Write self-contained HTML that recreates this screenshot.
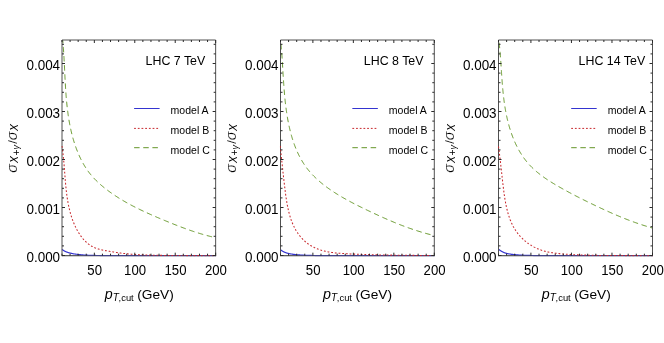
<!DOCTYPE html>
<html><head><meta charset="utf-8"><title>plot</title>
<style>
html,body{margin:0;padding:0;background:#fff;}
body{width:664px;height:343px;overflow:hidden;}
svg{display:block;}
svg{will-change:transform;}
text{font-family:"Liberation Sans",sans-serif;fill:#000;}
.i{font-style:italic;}
.tk{font-size:14.4px;}
.tt{font-size:12.4px;}
.lg{font-size:11.2px;}
</style></head><body>
<svg width="664" height="343" viewBox="0 0 664 343">
<rect width="664" height="343" fill="#fff"/>

<g>
<clipPath id="c0"><rect x="61.40" y="39.40" width="154.85" height="217.08"/></clipPath>
<path d="M62.0,255.68H215.65" stroke="#505050" stroke-width="1.0" fill="none"/>
<g clip-path="url(#c0)" fill="none" stroke-width="1.0">
<path d="M62.00,249.40 L62.05,249.44 L62.09,249.47 L62.14,249.51 L62.19,249.54 L62.23,249.58 L62.28,249.61 L62.33,249.65 L62.38,249.68 L62.42,249.72 L62.47,249.75 L62.52,249.79 L62.57,249.82 L62.61,249.86 L62.66,249.89 L62.71,249.93 L62.76,249.96 L62.80,249.99 L62.85,250.03 L62.90,250.06 L62.95,250.09 L63.00,250.13 L63.05,250.16 L63.09,250.19 L63.14,250.23 L63.19,250.26 L63.24,250.29 L63.29,250.32 L63.34,250.36 L63.39,250.39 L63.43,250.42 L63.48,250.45 L63.53,250.48 L63.58,250.51 L63.63,250.55 L63.68,250.58 L63.73,250.61 L63.78,250.64 L63.83,250.67 L63.88,250.70 L63.93,250.73 L63.98,250.76 L64.03,250.79 L64.08,250.82 L64.13,250.84 L64.18,250.87 L64.23,250.90 L64.28,250.93 L64.33,250.96 L64.38,250.98 L64.43,251.01 L64.48,251.04 L64.53,251.07 L64.58,251.09 L64.63,251.12 L64.68,251.15 L64.73,251.17 L64.79,251.20 L64.84,251.22 L64.89,251.25 L64.94,251.27 L64.99,251.30 L65.04,251.32 L65.09,251.34 L65.15,251.37 L65.20,251.39 L65.25,251.42 L65.30,251.44 L65.35,251.46 L65.41,251.49 L65.46,251.51 L65.51,251.53 L65.56,251.56 L65.62,251.58 L65.67,251.60 L65.72,251.63 L65.78,251.65 L65.83,251.67 L65.88,251.70 L65.94,251.72 L65.99,251.74 L66.04,251.76 L66.10,251.79 L66.15,251.81 L66.20,251.83 L66.26,251.85 L66.31,251.87 L66.37,251.90 L66.42,251.92 L66.47,251.94 L66.53,251.96 L66.58,251.98 L66.64,252.00 L66.69,252.03 L66.75,252.05 L66.80,252.07 L66.86,252.09 L66.91,252.11 L66.97,252.13 L67.02,252.15 L67.08,252.17 L67.13,252.19 L67.19,252.21 L67.24,252.23 L67.30,252.25 L67.35,252.27 L67.41,252.29 L67.46,252.31 L67.52,252.33 L67.57,252.35 L67.63,252.37 L67.68,252.39 L67.74,252.41 L67.79,252.43 L67.85,252.44 L67.91,252.46 L67.96,252.48 L68.02,252.50 L68.07,252.52 L68.13,252.54 L68.18,252.55 L68.24,252.57 L68.30,252.59 L68.35,252.61 L68.41,252.62 L68.46,252.64 L68.52,252.66 L68.57,252.67 L68.63,252.69 L68.69,252.71 L68.74,252.72 L68.80,252.74 L68.85,252.76 L68.91,252.77 L68.97,252.79 L69.02,252.80 L69.08,252.82 L69.13,252.83 L69.19,252.85 L69.25,252.86 L69.30,252.88 L69.36,252.89 L69.41,252.91 L69.47,252.92 L69.53,252.93 L69.58,252.95 L69.64,252.96 L69.69,252.98 L69.75,252.99 L69.81,253.00 L69.86,253.01 L69.92,253.03 L69.97,253.04 L70.03,253.05 L70.09,253.07 L70.14,253.08 L70.20,253.09 L70.25,253.10 L70.31,253.12 L70.37,253.13 L70.42,253.14 L70.48,253.16 L70.53,253.17 L70.59,253.18 L70.65,253.19 L70.70,253.21 L70.76,253.22 L70.81,253.23 L70.87,253.24 L70.93,253.26 L70.98,253.27 L71.04,253.28 L71.10,253.30 L71.15,253.31 L71.21,253.32 L71.26,253.33 L71.32,253.34 L71.38,253.36 L71.43,253.37 L71.49,253.38 L71.55,253.39 L71.60,253.41 L71.66,253.42 L71.72,253.43 L71.77,253.44 L71.83,253.45 L71.88,253.47 L71.94,253.48 L72.00,253.49 L72.90,253.68 L73.81,253.84 L74.72,254.00 L75.63,254.14 L76.53,254.27 L77.44,254.39 L78.35,254.50 L79.25,254.60 L80.16,254.69 L81.07,254.77 L81.97,254.85 L82.88,254.92 L83.79,254.98 L84.69,255.04 L85.60,255.09 L86.51,255.14 L87.42,255.19 L88.32,255.23 L89.23,255.27 L90.14,255.30 L91.04,255.33 L91.95,255.36 L92.86,255.39 L93.76,255.41 L94.67,255.44 L95.58,255.46 L96.48,255.48 L97.39,255.49 L98.30,255.51 L99.21,255.52 L100.11,255.54 L101.02,255.55 L101.93,255.56 L102.83,255.57 L103.74,255.58 L104.65,255.59 L105.55,255.60 L106.46,255.60 L107.37,255.61 L108.27,255.61 L109.18,255.62 L110.09,255.63 L111.00,255.63 L111.90,255.63 L112.81,255.64 L113.72,255.64 L114.62,255.64 L115.53,255.65 L116.44,255.65 L117.34,255.65 L118.25,255.66 L119.16,255.66 L120.07,255.66 L120.97,255.66 L121.88,255.66 L122.79,255.66 L123.69,255.67 L124.60,255.67 L125.51,255.67 L126.41,255.67 L127.32,255.67 L128.23,255.67 L129.13,255.67 L130.04,255.67 L130.95,255.67 L131.86,255.67 L132.76,255.67 L133.67,255.67 L134.58,255.67 L135.48,255.68 L136.39,255.68 L137.30,255.68 L138.20,255.68 L139.11,255.68 L140.02,255.68 L140.92,255.68 L141.83,255.68 L142.74,255.68 L143.65,255.68 L144.55,255.68 L145.46,255.68 L146.37,255.68 L147.27,255.68 L148.18,255.68 L149.09,255.68 L149.99,255.68 L150.90,255.68 L151.81,255.68 L152.71,255.68 L153.62,255.68 L154.53,255.68 L155.44,255.68 L156.34,255.68 L157.25,255.68 L158.16,255.68 L159.06,255.68 L159.97,255.68 L160.88,255.68 L161.78,255.68 L162.69,255.68 L163.60,255.68 L164.50,255.68 L165.41,255.68 L166.32,255.68 L167.23,255.68 L168.13,255.68 L169.04,255.68 L169.95,255.68 L170.85,255.68 L171.76,255.68 L172.67,255.68 L173.57,255.68 L174.48,255.68 L175.39,255.68 L176.29,255.68 L177.20,255.68 L178.11,255.68 L179.02,255.68 L179.92,255.68 L180.83,255.68 L181.74,255.68 L182.64,255.68 L183.55,255.68 L184.46,255.68 L185.36,255.68 L186.27,255.68 L187.18,255.68 L188.09,255.68 L188.99,255.68 L189.90,255.68 L190.81,255.68 L191.71,255.68 L192.62,255.68 L193.53,255.68 L194.43,255.68 L195.34,255.68 L196.25,255.68 L197.15,255.68 L198.06,255.68 L198.97,255.68 L199.88,255.68 L200.78,255.68 L201.69,255.68 L202.60,255.68 L203.50,255.68 L204.41,255.68 L205.32,255.68 L206.22,255.68 L207.13,255.68 L208.04,255.68 L208.94,255.68 L209.85,255.68 L210.76,255.68 L211.67,255.68 L212.57,255.68 L213.48,255.68 L214.39,255.68 L215.29,255.68 L216.20,255.68" stroke="#3434d0" stroke-width="1.2"/>
<path d="M62.70,40.01 L62.78,40.91 L62.87,41.82 L62.95,42.73 L63.03,43.65 L63.10,44.56 L63.18,45.48 L63.25,46.40 L63.32,47.32 L63.39,48.24 L63.46,49.16 L63.52,50.08 L63.58,51.01 L63.65,51.94 L63.71,52.86 L63.76,53.79 L63.82,54.72 L63.88,55.66 L63.93,56.59 L63.99,57.52 L64.04,58.46 L64.09,59.40 L64.14,60.33 L64.19,61.27 L64.24,62.21 L64.29,63.15 L64.33,64.10 L64.38,65.04 L64.43,65.98 L64.47,66.93 L64.52,67.87 L64.56,68.82 L64.61,69.77 L64.66,70.71 L64.70,71.66 L64.75,72.61 L64.79,73.56 L64.84,74.51 L64.89,75.46 L64.93,76.41 L64.98,77.36 L65.03,78.31 L65.08,79.26 L65.13,80.22 L65.18,81.17 L65.23,82.12 L65.28,83.08 L65.34,84.03 L65.39,84.98 L65.45,85.94 L65.50,86.89 L65.56,87.85 L65.62,88.80 L65.68,89.75 L65.75,90.71 L65.81,91.66 L65.88,92.62 L65.95,93.57 L66.02,94.52 L66.09,95.48 L66.17,96.43 L66.24,97.38 L66.32,98.33 L66.41,99.29 L66.49,100.24 L66.58,101.19 L66.67,102.14 L66.76,103.09 L66.85,104.04 L66.95,104.99 L67.05,105.94 L67.16,106.88 L67.26,107.83 L67.37,108.78 L67.49,109.72 L67.60,110.67 L67.72,111.61 L67.85,112.56 L67.97,113.50 L68.10,114.44 L68.24,115.38 L68.38,116.32 L68.52,117.26 L68.66,118.20 L68.81,119.13 L68.97,120.07 L69.13,121.00 L69.29,121.94 L69.46,122.87 L69.63,123.80 L69.80,124.73 L69.98,125.66 L70.17,126.58 L70.36,127.51 L70.55,128.43 L70.75,129.35 L70.96,130.27 L71.17,131.19 L71.38,132.11 L71.61,133.03 L71.83,133.94 L72.06,134.85 L72.30,135.76 L72.54,136.67 L72.79,137.58 L73.04,138.49 L73.30,139.39 L73.57,140.29 L73.84,141.19 L74.12,142.09 L74.40,142.98 L74.69,143.88 L74.98,144.77 L75.29,145.66 L75.60,146.55 L75.91,147.43 L76.23,148.32 L76.56,149.20 L76.90,150.07 L77.24,150.95 L77.59,151.82 L77.94,152.70 L78.31,153.56 L78.68,154.43 L79.06,155.29 L79.44,156.15 L79.84,157.00 L80.24,157.85 L80.65,158.70 L81.06,159.54 L81.49,160.38 L81.92,161.21 L82.36,162.04 L82.81,162.86 L83.27,163.68 L83.73,164.49 L84.21,165.30 L84.69,166.10 L85.18,166.89 L85.69,167.68 L86.20,168.46 L86.72,169.24 L87.25,170.01 L87.78,170.77 L88.33,171.52 L88.89,172.27 L89.46,173.01 L90.03,173.74 L90.62,174.46 L91.22,175.18 L91.82,175.89 L92.43,176.59 L93.06,177.29 L93.69,177.97 L94.33,178.65 L94.97,179.33 L95.63,180.00 L96.29,180.66 L96.96,181.31 L97.63,181.96 L98.32,182.60 L99.00,183.23 L99.70,183.86 L100.40,184.49 L101.11,185.10 L101.82,185.71 L102.54,186.32 L103.26,186.92 L103.99,187.51 L104.73,188.10 L105.47,188.68 L106.21,189.26 L106.96,189.84 L107.71,190.40 L108.46,190.97 L109.22,191.53 L109.98,192.08 L110.75,192.63 L111.52,193.17 L112.29,193.71 L113.06,194.25 L113.84,194.78 L114.63,195.30 L115.41,195.82 L116.20,196.34 L116.99,196.85 L117.79,197.36 L118.59,197.87 L119.39,198.37 L120.20,198.86 L121.00,199.35 L121.81,199.84 L122.63,200.33 L123.44,200.81 L124.26,201.28 L125.08,201.76 L125.90,202.23 L126.73,202.69 L127.56,203.15 L128.39,203.61 L129.22,204.07 L130.06,204.52 L130.89,204.97 L131.73,205.41 L132.57,205.85 L133.42,206.29 L134.26,206.73 L135.11,207.16 L135.96,207.59 L136.81,208.01 L137.66,208.44 L138.51,208.86 L139.37,209.27 L140.22,209.69 L141.08,210.10 L141.94,210.51 L142.80,210.92 L143.66,211.32 L144.52,211.72 L145.39,212.12 L146.25,212.52 L147.12,212.92 L147.98,213.31 L148.85,213.70 L149.72,214.09 L150.59,214.47 L151.46,214.86 L152.33,215.24 L153.20,215.62 L154.07,216.00 L154.94,216.38 L155.81,216.75 L156.68,217.13 L157.56,217.50 L158.43,217.87 L159.30,218.24 L160.17,218.61 L161.05,218.97 L161.92,219.34 L162.79,219.70 L163.66,220.06 L164.54,220.43 L165.41,220.79 L166.28,221.14 L167.15,221.50 L168.02,221.86 L168.89,222.22 L169.76,222.57 L170.63,222.92 L171.50,223.27 L172.37,223.62 L173.24,223.97 L174.11,224.32 L174.98,224.66 L175.85,225.01 L176.72,225.35 L177.59,225.69 L178.47,226.03 L179.34,226.36 L180.21,226.70 L181.08,227.03 L181.96,227.36 L182.83,227.69 L183.71,228.02 L184.59,228.34 L185.46,228.66 L186.34,228.98 L187.22,229.30 L188.10,229.61 L188.98,229.92 L189.86,230.23 L190.75,230.54 L191.63,230.84 L192.52,231.14 L193.41,231.44 L194.29,231.73 L195.19,232.02 L196.08,232.31 L196.97,232.60 L197.87,232.88 L198.76,233.16 L199.66,233.44 L200.56,233.71 L201.46,233.98 L202.37,234.25 L203.28,234.51 L204.18,234.77 L205.09,235.02 L206.01,235.28 L206.92,235.52 L207.84,235.77 L208.76,236.01 L209.68,236.25 L210.60,236.48 L211.53,236.71 L212.46,236.93 L213.39,237.16 L214.33,237.37 L215.26,237.58 L215.65,237.67" stroke="#649628" stroke-dasharray="5.5 3.65" stroke-dashoffset="2.27"/>
</g>
<path d="M62.0,256.18V40.0H215.65V256.18" fill="none" stroke="#505050" stroke-width="1.0"/>
<path d="M62.0,255.68H215.65" stroke="#505050" stroke-width="1.0" stroke-opacity="0.65" fill="none"/>
<g clip-path="url(#c0)" fill="none" stroke-width="1.0">
<path d="M61.89,146.01 L61.97,146.48 L62.04,146.96 L62.12,147.43 L62.19,147.91 L62.26,148.38 L62.33,148.86 L62.40,149.34 L62.47,149.81 L62.54,150.29 L62.60,150.77 L62.67,151.25 L62.73,151.73 L62.79,152.22 L62.85,152.70 L62.91,153.18 L62.97,153.66 L63.03,154.15 L63.08,154.63 L63.14,155.12 L63.19,155.60 L63.25,156.09 L63.30,156.57 L63.35,157.06 L63.40,157.55 L63.45,158.04 L63.50,158.52 L63.55,159.01 L63.60,159.50 L63.64,159.99 L63.69,160.48 L63.74,160.97 L63.78,161.46 L63.83,161.96 L63.87,162.45 L63.91,162.94 L63.96,163.43 L64.00,163.92 L64.04,164.42 L64.08,164.91 L64.12,165.41 L64.16,165.90 L64.20,166.39 L64.24,166.89 L64.28,167.38 L64.32,167.88 L64.36,168.37 L64.40,168.87 L64.44,169.37 L64.48,169.86 L64.52,170.36 L64.55,170.85 L64.59,171.35 L64.63,171.85 L64.67,172.34 L64.71,172.84 L64.74,173.34 L64.78,173.84 L64.82,174.33 L64.86,174.83 L64.90,175.33 L64.93,175.83 L64.97,176.32 L65.01,176.82 L65.05,177.32 L65.09,177.82 L65.13,178.32 L65.17,178.81 L65.21,179.31 L65.25,179.81 L65.29,180.31 L65.33,180.81 L65.38,181.30 L65.42,181.80 L65.46,182.30 L65.50,182.80 L65.55,183.30 L65.59,183.79 L65.64,184.29 L65.68,184.79 L65.73,185.29 L65.78,185.78 L65.83,186.28 L65.88,186.78 L65.92,187.27 L65.98,187.77 L66.03,188.26 L66.08,188.76 L66.13,189.26 L66.19,189.75 L66.24,190.25 L66.30,190.74 L66.35,191.24 L66.41,191.73 L66.47,192.23 L66.53,192.72 L66.59,193.21 L66.65,193.71 L66.72,194.20 L66.78,194.69 L66.85,195.18 L66.91,195.67 L66.98,196.17 L67.05,196.66 L67.12,197.15 L67.19,197.64 L67.27,198.13 L67.34,198.62 L67.42,199.11 L67.50,199.59 L67.58,200.08 L67.66,200.57 L67.74,201.06 L67.82,201.54 L67.91,202.03 L68.00,202.51 L68.09,203.00 L68.18,203.48 L68.27,203.97 L68.36,204.45 L68.46,204.93 L68.56,205.42 L68.65,205.90 L68.76,206.38 L68.86,206.86 L68.96,207.34 L69.07,207.82 L69.18,208.30 L69.29,208.77 L69.40,209.25 L69.52,209.73 L69.63,210.20 L69.75,210.68 L69.87,211.15 L70.00,211.62 L70.12,212.10 L70.25,212.57 L70.38,213.04 L70.51,213.51 L70.65,213.98 L70.78,214.45 L70.92,214.92 L71.06,215.38 L71.21,215.85 L71.35,216.32 L71.50,216.78 L71.65,217.24 L71.81,217.71 L71.96,218.17 L72.12,218.63 L72.28,219.09 L72.45,219.55 L72.61,220.01 L72.78,220.46 L72.95,220.92 L73.13,221.38 L73.31,221.83 L73.49,222.28 L73.67,222.74 L73.85,223.19 L74.04,223.64 L74.23,224.09 L74.43,224.54 L74.63,224.98 L74.83,225.43 L75.03,225.87 L75.23,226.32 L75.44,226.76 L75.66,227.20 L75.87,227.64 L76.09,228.08 L76.31,228.52 L76.54,228.96 L76.76,229.39 L77.00,229.83 L77.23,230.26 L77.47,230.69 L77.71,231.12 L77.95,231.54 L78.20,231.97 L78.45,232.39 L78.71,232.81 L78.97,233.23 L79.23,233.64 L79.49,234.05 L79.76,234.46 L80.04,234.87 L80.31,235.27 L80.59,235.67 L80.88,236.07 L81.17,236.46 L81.46,236.85 L81.75,237.24 L82.05,237.62 L82.36,238.00 L82.66,238.38 L82.98,238.75 L83.29,239.12 L83.61,239.48 L83.94,239.84 L84.26,240.19 L84.60,240.54 L84.93,240.89 L85.27,241.23 L85.62,241.57 L85.97,241.90 L86.32,242.22 L86.68,242.54 L87.04,242.86 L87.41,243.17 L87.78,243.47 L88.15,243.77 L88.54,244.07 L88.92,244.35 L89.31,244.64 L89.70,244.91 L90.10,245.18 L90.51,245.44 L90.92,245.70 L91.33,245.95 L91.75,246.19 L92.17,246.43 L92.60,246.66 L93.03,246.88 L93.47,247.10 L93.91,247.31 L94.36,247.51 L94.81,247.71 L95.27,247.89 L95.73,248.08 L96.20,248.25 L96.67,248.42 L97.14,248.58 L97.62,248.74 L98.10,248.89 L98.59,249.03 L99.07,249.17 L99.56,249.31 L100.06,249.44 L100.55,249.57 L101.05,249.69 L101.55,249.81 L102.05,249.92 L102.55,250.03 L103.06,250.14 L103.56,250.25 L104.07,250.35 L104.57,250.45 L105.08,250.54 L105.58,250.64 L106.09,250.73 L106.60,250.82 L107.10,250.91 L107.61,251.00 L108.11,251.09 L108.61,251.17 L109.11,251.26 L109.61,251.34 L110.11,251.43 L110.61,251.51 L111.10,251.60 L111.60,251.68 L112.09,251.76 L112.58,251.84 L113.07,251.93 L113.56,252.01 L114.05,252.09 L114.54,252.17 L115.02,252.24 L115.51,252.32 L115.99,252.40 L116.48,252.47 L116.96,252.55 L117.44,252.62 L117.93,252.69 L118.41,252.76 L118.89,252.83 L119.37,252.90 L119.85,252.97 L120.33,253.04 L120.81,253.10 L121.29,253.16 L121.77,253.23 L122.25,253.29 L122.73,253.34 L123.21,253.40 L123.70,253.46 L124.18,253.51 L124.76,253.57 L125.33,253.64 L125.91,253.70 L126.49,253.76 L127.07,253.82 L127.65,253.87 L128.23,253.93 L128.81,253.98 L129.39,254.03 L129.96,254.08 L130.54,254.13 L131.12,254.18 L131.70,254.22 L132.28,254.27 L132.86,254.31 L133.44,254.35 L134.02,254.39 L134.59,254.43 L135.17,254.47 L135.75,254.50 L136.33,254.54 L136.91,254.57 L137.49,254.61 L138.07,254.64 L138.65,254.67 L139.22,254.70 L139.80,254.73 L140.38,254.76 L140.96,254.79 L141.54,254.81 L142.12,254.84 L142.70,254.86 L143.28,254.89 L143.85,254.91 L144.43,254.94 L145.01,254.96 L145.59,254.98 L146.17,255.00 L146.75,255.02 L147.33,255.04 L147.91,255.06 L148.48,255.08 L149.06,255.10 L149.64,255.12 L150.22,255.13 L150.80,255.15 L151.38,255.17 L151.96,255.18 L152.54,255.20 L153.11,255.21 L153.69,255.22 L154.27,255.24 L154.85,255.25 L155.43,255.26 L156.01,255.28 L156.59,255.29 L157.17,255.30 L157.75,255.31 L158.32,255.32 L158.90,255.33 L159.48,255.34 L160.06,255.35 L160.64,255.36 L161.22,255.37 L161.80,255.38 L162.38,255.39 L162.95,255.40 L163.53,255.41 L164.11,255.42 L164.69,255.43 L165.27,255.43 L165.85,255.44 L166.43,255.45 L167.01,255.45 L167.58,255.46 L168.16,255.47 L168.74,255.47 L169.32,255.48 L169.90,255.49 L170.48,255.49 L171.06,255.50 L171.64,255.50 L172.21,255.51 L172.79,255.51 L173.37,255.52 L173.95,255.52 L174.53,255.53 L175.11,255.53 L175.69,255.54 L176.27,255.54 L176.84,255.55 L177.42,255.55 L178.00,255.55 L178.58,255.56 L179.16,255.56 L179.74,255.57 L180.32,255.57 L180.90,255.57 L181.47,255.58 L182.05,255.58 L182.63,255.58 L183.21,255.58 L183.79,255.59 L184.37,255.59 L184.95,255.59 L185.53,255.60 L186.10,255.60 L186.68,255.60 L187.26,255.60 L187.84,255.61 L188.42,255.61 L189.00,255.61 L189.58,255.61 L190.16,255.61 L190.73,255.62 L191.31,255.62 L191.89,255.62 L192.47,255.62 L193.05,255.62 L193.63,255.62 L194.21,255.63 L194.79,255.63 L195.36,255.63 L195.94,255.63 L196.52,255.63 L197.10,255.63 L197.68,255.64 L198.26,255.64 L198.84,255.64 L199.42,255.64 L199.99,255.64 L200.57,255.64 L201.15,255.64 L201.73,255.64 L202.31,255.65 L202.89,255.65 L203.47,255.65 L204.05,255.65 L204.62,255.65 L205.20,255.65 L205.78,255.65 L206.36,255.65 L206.94,255.65 L207.52,255.65 L208.10,255.65 L208.68,255.66 L209.25,255.66 L209.83,255.66 L210.41,255.66 L210.99,255.66 L211.57,255.66 L212.15,255.66 L212.73,255.66 L213.31,255.66 L213.88,255.66 L214.46,255.66 L215.04,255.66 L215.62,255.66 L216.20,255.66" stroke="#c8282d" stroke-width="1.05" stroke-dasharray="1.8 1.9"/>
</g>
<path d="M62.00,255.68v-2.0M62.00,40.0v2.0M70.09,255.68v-2.0M70.09,40.0v2.0M78.17,255.68v-2.0M78.17,40.0v2.0M86.26,255.68v-2.0M86.26,40.0v2.0M94.35,255.68v-3.0M94.35,40.0v3.0M102.43,255.68v-2.0M102.43,40.0v2.0M110.52,255.68v-2.0M110.52,40.0v2.0M118.61,255.68v-2.0M118.61,40.0v2.0M126.69,255.68v-2.0M126.69,40.0v2.0M134.78,255.68v-3.0M134.78,40.0v3.0M142.87,255.68v-2.0M142.87,40.0v2.0M150.96,255.68v-2.0M150.96,40.0v2.0M159.04,255.68v-2.0M159.04,40.0v2.0M167.13,255.68v-2.0M167.13,40.0v2.0M175.22,255.68v-3.0M175.22,40.0v3.0M183.30,255.68v-2.0M183.30,40.0v2.0M191.39,255.68v-2.0M191.39,40.0v2.0M199.48,255.68v-2.0M199.48,40.0v2.0M207.56,255.68v-2.0M207.56,40.0v2.0M215.65,255.68v-3.0M215.65,40.0v3.0M62.0,255.50h3.0M215.65,255.50h-3.0M62.0,245.90h2.0M215.65,245.90h-2.0M62.0,236.30h2.0M215.65,236.30h-2.0M62.0,226.70h2.0M215.65,226.70h-2.0M62.0,217.10h2.0M215.65,217.10h-2.0M62.0,207.50h3.0M215.65,207.50h-3.0M62.0,197.90h2.0M215.65,197.90h-2.0M62.0,188.30h2.0M215.65,188.30h-2.0M62.0,178.70h2.0M215.65,178.70h-2.0M62.0,169.10h2.0M215.65,169.10h-2.0M62.0,159.50h3.0M215.65,159.50h-3.0M62.0,149.90h2.0M215.65,149.90h-2.0M62.0,140.30h2.0M215.65,140.30h-2.0M62.0,130.70h2.0M215.65,130.70h-2.0M62.0,121.10h2.0M215.65,121.10h-2.0M62.0,111.50h3.0M215.65,111.50h-3.0M62.0,101.90h2.0M215.65,101.90h-2.0M62.0,92.30h2.0M215.65,92.30h-2.0M62.0,82.70h2.0M215.65,82.70h-2.0M62.0,73.10h2.0M215.65,73.10h-2.0M62.0,63.50h3.0M215.65,63.50h-3.0M62.0,53.90h2.0M215.65,53.90h-2.0M62.0,44.30h2.0M215.65,44.30h-2.0" stroke="#2a2a2a" stroke-width="1.0" fill="none"/>
<text class="tk" transform="translate(94.65,275.2) scale(0.915,1)" text-anchor="middle">50</text>
<text class="tk" transform="translate(135.08,275.2) scale(0.915,1)" text-anchor="middle">100</text>
<text class="tk" transform="translate(175.52,275.2) scale(0.915,1)" text-anchor="middle">150</text>
<text class="tk" transform="translate(215.95,275.2) scale(0.915,1)" text-anchor="middle">200</text>
<text class="tk" transform="translate(60.10,262.30) scale(0.935,1)" text-anchor="end">0.000</text>
<text class="tk" transform="translate(60.10,214.30) scale(0.935,1)" text-anchor="end">0.001</text>
<text class="tk" transform="translate(60.10,166.30) scale(0.935,1)" text-anchor="end">0.002</text>
<text class="tk" transform="translate(60.10,118.30) scale(0.935,1)" text-anchor="end">0.003</text>
<text class="tk" transform="translate(60.10,70.30) scale(0.935,1)" text-anchor="end">0.004</text>
<text class="tt" x="175.40" y="65.3" text-anchor="middle">LHC 7 TeV</text>
<path d="M134.10,108.5H159.60" stroke="#3434d0" stroke-width="1.0" fill="none"/>
<text class="lg" transform="translate(170.60,114.40) scale(0.94,1)">model A</text>
<path d="M134.10,128.4H159.60" stroke="#c8282d" stroke-width="1.0" stroke-dasharray="1.8 1.9" fill="none"/>
<text class="lg" transform="translate(170.60,134.30) scale(0.94,1)">model B</text>
<path d="M134.10,147.7H159.60" stroke="#649628" stroke-width="1.0" stroke-dasharray="5.5 3.65" fill="none"/>
<text class="lg" transform="translate(170.60,153.60) scale(0.94,1)">model C</text>
<text y="298.9" font-size="13.7"><tspan class="i" font-size="14.3" x="104.80">p</tspan><tspan class="i" font-size="10" x="112.80" dy="2.2">T</tspan><tspan font-size="9.4" x="118.60">,cut</tspan><tspan x="137.20" dy="-2.2">(GeV)</tspan></text>
<g transform="translate(17.40,172.4) rotate(-90)"><text y="0" font-size="14.6"><tspan class="i" x="-0.3" stroke="#fff" stroke-width="0.22">σ</tspan><tspan class="i" font-size="10.3" x="9.4" dy="1.0">X</tspan><tspan font-size="10.2" x="16.9" dy="1.4">+</tspan><tspan class="i" font-size="9.0" x="22.9" dy="-0.6">γ</tspan><tspan font-size="13.6" x="28.7" dy="-2.0" stroke="#fff" stroke-width="0.22">/</tspan><tspan class="i" x="32.2" dy="0.2" stroke="#fff" stroke-width="0.22">σ</tspan><tspan class="i" font-size="10.3" x="41.5" dy="1.0">X</tspan></text></g>
</g>
<g>
<clipPath id="c1"><rect x="279.90" y="39.40" width="155.00" height="217.08"/></clipPath>
<path d="M280.5,255.68H434.30" stroke="#505050" stroke-width="1.0" fill="none"/>
<g clip-path="url(#c1)" fill="none" stroke-width="1.0">
<path d="M280.20,249.50 L280.24,249.53 L280.28,249.57 L280.33,249.60 L280.37,249.64 L280.41,249.67 L280.45,249.71 L280.50,249.74 L280.54,249.78 L280.58,249.81 L280.63,249.84 L280.67,249.88 L280.71,249.91 L280.76,249.94 L280.80,249.98 L280.84,250.01 L280.89,250.04 L280.93,250.08 L280.97,250.11 L281.02,250.14 L281.06,250.18 L281.10,250.21 L281.15,250.24 L281.19,250.27 L281.23,250.30 L281.28,250.34 L281.32,250.37 L281.37,250.40 L281.41,250.43 L281.45,250.46 L281.50,250.49 L281.54,250.53 L281.59,250.56 L281.63,250.59 L281.68,250.62 L281.72,250.65 L281.77,250.68 L281.81,250.71 L281.86,250.74 L281.90,250.77 L281.95,250.80 L281.99,250.83 L282.04,250.86 L282.08,250.89 L282.13,250.92 L282.17,250.95 L282.22,250.98 L282.26,251.00 L282.31,251.03 L282.35,251.06 L282.40,251.09 L282.44,251.12 L282.49,251.15 L282.54,251.17 L282.58,251.20 L282.63,251.23 L282.67,251.26 L282.72,251.28 L282.77,251.31 L282.81,251.34 L282.86,251.36 L282.91,251.39 L282.95,251.41 L283.00,251.44 L283.04,251.47 L283.09,251.49 L283.14,251.52 L283.18,251.54 L283.23,251.57 L283.28,251.59 L283.32,251.62 L283.37,251.64 L283.42,251.67 L283.47,251.69 L283.51,251.71 L283.56,251.74 L283.61,251.76 L283.65,251.78 L283.70,251.81 L283.75,251.83 L283.80,251.85 L283.84,251.87 L283.89,251.90 L283.94,251.92 L283.99,251.94 L284.04,251.96 L284.08,251.98 L284.13,252.01 L284.18,252.03 L284.23,252.05 L284.28,252.07 L284.33,252.09 L284.37,252.11 L284.42,252.14 L284.47,252.16 L284.52,252.18 L284.57,252.20 L284.62,252.22 L284.67,252.24 L284.72,252.26 L284.77,252.28 L284.82,252.30 L284.87,252.32 L284.92,252.34 L284.97,252.36 L285.02,252.38 L285.07,252.40 L285.12,252.42 L285.17,252.44 L285.22,252.46 L285.27,252.48 L285.32,252.50 L285.37,252.52 L285.42,252.54 L285.47,252.56 L285.52,252.58 L285.57,252.60 L285.62,252.62 L285.67,252.64 L285.72,252.66 L285.77,252.68 L285.82,252.70 L285.88,252.71 L285.93,252.73 L285.98,252.75 L286.03,252.77 L286.08,252.79 L286.13,252.80 L286.18,252.82 L286.23,252.84 L286.29,252.86 L286.34,252.87 L286.39,252.89 L286.44,252.91 L286.49,252.93 L286.54,252.94 L286.59,252.96 L286.65,252.98 L286.70,252.99 L286.75,253.01 L286.80,253.02 L286.85,253.04 L286.90,253.06 L286.96,253.07 L287.01,253.09 L287.06,253.10 L287.11,253.12 L287.16,253.13 L287.22,253.15 L287.27,253.16 L287.32,253.18 L287.37,253.19 L287.42,253.21 L287.47,253.22 L287.53,253.23 L287.58,253.25 L287.63,253.26 L287.68,253.27 L287.73,253.29 L287.79,253.30 L287.84,253.31 L287.89,253.33 L287.94,253.34 L287.99,253.35 L288.04,253.36 L288.10,253.38 L288.15,253.39 L288.20,253.40 L288.25,253.41 L288.30,253.42 L288.36,253.43 L288.41,253.45 L288.46,253.46 L288.51,253.47 L288.56,253.48 L289.48,253.68 L290.40,253.85 L291.32,254.02 L292.23,254.16 L293.15,254.30 L294.07,254.42 L294.99,254.53 L295.90,254.63 L296.82,254.73 L297.74,254.81 L298.66,254.89 L299.57,254.96 L300.49,255.02 L301.41,255.08 L302.33,255.13 L303.24,255.18 L304.16,255.23 L305.08,255.27 L306.00,255.30 L306.91,255.34 L307.83,255.37 L308.75,255.40 L309.67,255.42 L310.58,255.44 L311.50,255.46 L312.42,255.48 L313.34,255.50 L314.25,255.52 L315.17,255.53 L316.09,255.54 L317.01,255.56 L317.92,255.57 L318.84,255.58 L319.76,255.59 L320.68,255.59 L321.59,255.60 L322.51,255.61 L323.43,255.62 L324.35,255.62 L325.26,255.63 L326.18,255.63 L327.10,255.64 L328.02,255.64 L328.93,255.64 L329.85,255.65 L330.77,255.65 L331.69,255.65 L332.60,255.65 L333.52,255.66 L334.44,255.66 L335.36,255.66 L336.27,255.66 L337.19,255.66 L338.11,255.67 L339.03,255.67 L339.94,255.67 L340.86,255.67 L341.78,255.67 L342.70,255.67 L343.61,255.67 L344.53,255.67 L345.45,255.67 L346.37,255.67 L347.28,255.67 L348.20,255.67 L349.12,255.68 L350.04,255.68 L350.95,255.68 L351.87,255.68 L352.79,255.68 L353.71,255.68 L354.62,255.68 L355.54,255.68 L356.46,255.68 L357.38,255.68 L358.30,255.68 L359.21,255.68 L360.13,255.68 L361.05,255.68 L361.97,255.68 L362.88,255.68 L363.80,255.68 L364.72,255.68 L365.64,255.68 L366.55,255.68 L367.47,255.68 L368.39,255.68 L369.31,255.68 L370.22,255.68 L371.14,255.68 L372.06,255.68 L372.98,255.68 L373.89,255.68 L374.81,255.68 L375.73,255.68 L376.65,255.68 L377.56,255.68 L378.48,255.68 L379.40,255.68 L380.32,255.68 L381.23,255.68 L382.15,255.68 L383.07,255.68 L383.99,255.68 L384.90,255.68 L385.82,255.68 L386.74,255.68 L387.66,255.68 L388.57,255.68 L389.49,255.68 L390.41,255.68 L391.33,255.68 L392.24,255.68 L393.16,255.68 L394.08,255.68 L395.00,255.68 L395.91,255.68 L396.83,255.68 L397.75,255.68 L398.67,255.68 L399.58,255.68 L400.50,255.68 L401.42,255.68 L402.34,255.68 L403.25,255.68 L404.17,255.68 L405.09,255.68 L406.01,255.68 L406.92,255.68 L407.84,255.68 L408.76,255.68 L409.68,255.68 L410.59,255.68 L411.51,255.68 L412.43,255.68 L413.35,255.68 L414.26,255.68 L415.18,255.68 L416.10,255.68 L417.02,255.68 L417.93,255.68 L418.85,255.68 L419.77,255.68 L420.69,255.68 L421.60,255.68 L422.52,255.68 L423.44,255.68 L424.36,255.68 L425.27,255.68 L426.19,255.68 L427.11,255.68 L428.03,255.68 L428.94,255.68 L429.86,255.68 L430.78,255.68 L431.70,255.68 L432.61,255.68 L433.53,255.68 L434.45,255.68" stroke="#3434d0" stroke-width="1.2"/>
<path d="M280.59,40.00 L280.69,40.93 L280.78,41.87 L280.87,42.80 L280.96,43.73 L281.05,44.66 L281.13,45.59 L281.21,46.52 L281.29,47.45 L281.37,48.38 L281.45,49.31 L281.52,50.24 L281.59,51.17 L281.67,52.10 L281.73,53.03 L281.80,53.96 L281.87,54.89 L281.93,55.82 L282.00,56.75 L282.06,57.68 L282.12,58.61 L282.19,59.53 L282.25,60.46 L282.30,61.39 L282.36,62.32 L282.42,63.25 L282.48,64.17 L282.54,65.10 L282.59,66.03 L282.65,66.96 L282.70,67.89 L282.76,68.81 L282.82,69.74 L282.87,70.67 L282.93,71.60 L282.98,72.52 L283.04,73.45 L283.09,74.38 L283.15,75.31 L283.21,76.24 L283.27,77.16 L283.32,78.09 L283.38,79.02 L283.44,79.95 L283.50,80.87 L283.57,81.80 L283.63,82.73 L283.69,83.66 L283.76,84.59 L283.82,85.52 L283.89,86.44 L283.96,87.37 L284.03,88.30 L284.10,89.23 L284.17,90.16 L284.25,91.09 L284.33,92.02 L284.41,92.95 L284.49,93.88 L284.57,94.81 L284.66,95.73 L284.74,96.66 L284.83,97.60 L284.92,98.53 L285.02,99.46 L285.11,100.39 L285.21,101.32 L285.32,102.25 L285.42,103.18 L285.53,104.11 L285.64,105.04 L285.75,105.98 L285.87,106.91 L285.99,107.84 L286.11,108.77 L286.24,109.71 L286.37,110.64 L286.50,111.57 L286.64,112.51 L286.78,113.44 L286.92,114.38 L287.07,115.31 L287.22,116.24 L287.38,117.18 L287.54,118.11 L287.70,119.04 L287.87,119.97 L288.04,120.91 L288.22,121.84 L288.40,122.77 L288.59,123.69 L288.78,124.62 L288.97,125.55 L289.18,126.47 L289.38,127.40 L289.59,128.32 L289.81,129.24 L290.03,130.16 L290.25,131.07 L290.48,131.99 L290.72,132.90 L290.96,133.81 L291.21,134.72 L291.46,135.62 L291.72,136.53 L291.99,137.43 L292.26,138.33 L292.54,139.22 L292.82,140.11 L293.11,141.00 L293.41,141.89 L293.71,142.77 L294.02,143.65 L294.33,144.53 L294.66,145.40 L294.98,146.27 L295.32,147.13 L295.66,147.99 L296.01,148.85 L296.37,149.70 L296.73,150.55 L297.10,151.40 L297.48,152.24 L297.87,153.07 L298.26,153.91 L298.66,154.73 L299.07,155.55 L299.49,156.37 L299.91,157.18 L300.35,157.99 L300.79,158.79 L301.23,159.59 L301.69,160.38 L302.16,161.17 L302.63,161.95 L303.11,162.72 L303.60,163.49 L304.10,164.25 L304.61,165.01 L305.13,165.76 L305.65,166.50 L306.19,167.24 L306.73,167.97 L307.28,168.69 L307.84,169.41 L308.42,170.12 L309.00,170.83 L309.58,171.53 L310.18,172.22 L310.79,172.91 L311.40,173.59 L312.02,174.26 L312.65,174.93 L313.29,175.59 L313.93,176.24 L314.59,176.89 L315.25,177.54 L315.91,178.17 L316.58,178.81 L317.26,179.43 L317.95,180.05 L318.64,180.67 L319.34,181.28 L320.05,181.88 L320.76,182.48 L321.48,183.07 L322.20,183.66 L322.93,184.25 L323.66,184.82 L324.40,185.40 L325.14,185.97 L325.89,186.53 L326.64,187.09 L327.40,187.64 L328.16,188.19 L328.93,188.73 L329.70,189.27 L330.47,189.81 L331.25,190.34 L332.03,190.86 L332.81,191.39 L333.60,191.90 L334.39,192.42 L335.18,192.92 L335.98,193.43 L336.78,193.93 L337.58,194.43 L338.38,194.92 L339.19,195.41 L339.99,195.89 L340.80,196.38 L341.62,196.85 L342.43,197.33 L343.25,197.80 L344.07,198.27 L344.89,198.73 L345.71,199.19 L346.53,199.65 L347.36,200.11 L348.19,200.56 L349.02,201.01 L349.85,201.45 L350.68,201.90 L351.51,202.34 L352.35,202.78 L353.18,203.21 L354.02,203.65 L354.86,204.08 L355.70,204.51 L356.54,204.93 L357.38,205.36 L358.22,205.78 L359.06,206.20 L359.91,206.62 L360.75,207.04 L361.59,207.45 L362.44,207.87 L363.28,208.28 L364.13,208.69 L364.97,209.10 L365.82,209.51 L366.66,209.91 L367.51,210.32 L368.35,210.72 L369.20,211.13 L370.04,211.53 L370.89,211.93 L371.73,212.33 L372.58,212.73 L373.42,213.12 L374.27,213.52 L375.11,213.91 L375.96,214.31 L376.80,214.70 L377.65,215.09 L378.49,215.48 L379.34,215.86 L380.19,216.25 L381.03,216.63 L381.88,217.02 L382.73,217.40 L383.58,217.78 L384.42,218.15 L385.27,218.53 L386.12,218.90 L386.97,219.27 L387.82,219.64 L388.67,220.01 L389.52,220.38 L390.38,220.74 L391.23,221.10 L392.08,221.46 L392.94,221.82 L393.79,222.18 L394.65,222.53 L395.50,222.88 L396.36,223.23 L397.22,223.58 L398.08,223.92 L398.94,224.26 L399.80,224.60 L400.66,224.94 L401.52,225.27 L402.39,225.61 L403.25,225.93 L404.12,226.26 L404.99,226.59 L405.85,226.91 L406.72,227.23 L407.60,227.54 L408.47,227.86 L409.34,228.17 L410.22,228.48 L411.09,228.78 L411.97,229.08 L412.85,229.38 L413.73,229.68 L414.61,229.97 L415.50,230.26 L416.38,230.55 L417.27,230.83 L418.16,231.12 L419.05,231.39 L419.94,231.67 L420.83,231.94 L421.73,232.21 L422.62,232.47 L423.52,232.73 L424.42,232.99 L425.32,233.25 L426.23,233.50 L427.13,233.75 L428.04,233.99 L428.95,234.23 L429.86,234.47 L430.78,234.70 L431.69,234.93 L432.61,235.16 L433.53,235.38 L434.30,235.56" stroke="#649628" stroke-dasharray="5.5 3.65" stroke-dashoffset="5.24"/>
</g>
<path d="M280.5,256.18V40.0H434.30V256.18" fill="none" stroke="#505050" stroke-width="1.0"/>
<path d="M280.5,255.68H434.30" stroke="#505050" stroke-width="1.0" stroke-opacity="0.65" fill="none"/>
<g clip-path="url(#c1)" fill="none" stroke-width="1.0">
<path d="M280.20,146.00 L280.26,146.55 L280.31,147.10 L280.37,147.65 L280.43,148.19 L280.49,148.74 L280.55,149.28 L280.60,149.83 L280.66,150.37 L280.72,150.91 L280.77,151.45 L280.83,151.99 L280.89,152.53 L280.95,153.07 L281.00,153.61 L281.06,154.15 L281.12,154.68 L281.17,155.22 L281.23,155.76 L281.28,156.29 L281.34,156.82 L281.40,157.36 L281.45,157.89 L281.51,158.42 L281.57,158.96 L281.62,159.49 L281.68,160.02 L281.74,160.55 L281.79,161.08 L281.85,161.61 L281.90,162.14 L281.96,162.67 L282.02,163.20 L282.07,163.73 L282.13,164.26 L282.19,164.79 L282.24,165.32 L282.30,165.84 L282.36,166.37 L282.41,166.90 L282.47,167.43 L282.53,167.95 L282.59,168.48 L282.64,169.01 L282.70,169.54 L282.76,170.06 L282.82,170.59 L282.87,171.12 L282.93,171.65 L282.99,172.17 L283.05,172.70 L283.11,173.23 L283.17,173.76 L283.23,174.29 L283.28,174.81 L283.34,175.34 L283.40,175.87 L283.46,176.40 L283.52,176.93 L283.58,177.46 L283.64,177.99 L283.70,178.52 L283.77,179.05 L283.83,179.58 L283.89,180.11 L283.95,180.65 L284.01,181.18 L284.07,181.71 L284.14,182.25 L284.20,182.78 L284.26,183.31 L284.33,183.85 L284.39,184.39 L284.45,184.92 L284.52,185.46 L284.58,186.00 L284.65,186.54 L284.71,187.08 L284.78,187.62 L284.85,188.16 L284.91,188.70 L284.98,189.24 L285.05,189.78 L285.11,190.33 L285.18,190.87 L285.25,191.42 L285.32,191.96 L285.39,192.51 L285.46,193.06 L285.53,193.60 L285.61,194.15 L285.68,194.70 L285.75,195.25 L285.83,195.80 L285.91,196.35 L285.98,196.90 L286.06,197.44 L286.14,197.99 L286.23,198.54 L286.31,199.09 L286.39,199.64 L286.48,200.19 L286.57,200.74 L286.66,201.29 L286.75,201.84 L286.84,202.38 L286.93,202.93 L287.03,203.48 L287.13,204.02 L287.23,204.57 L287.33,205.12 L287.43,205.66 L287.54,206.21 L287.64,206.75 L287.75,207.29 L287.87,207.83 L287.98,208.37 L288.10,208.91 L288.22,209.45 L288.34,209.99 L288.46,210.53 L288.59,211.07 L288.72,211.60 L288.85,212.13 L288.99,212.67 L289.13,213.20 L289.27,213.73 L289.41,214.26 L289.56,214.78 L289.71,215.31 L289.86,215.83 L290.01,216.35 L290.17,216.87 L290.33,217.39 L290.50,217.91 L290.67,218.43 L290.84,218.94 L291.02,219.45 L291.19,219.96 L291.38,220.47 L291.56,220.98 L291.75,221.48 L291.95,221.98 L292.14,222.48 L292.35,222.98 L292.55,223.47 L292.76,223.97 L292.97,224.46 L293.19,224.94 L293.41,225.43 L293.64,225.91 L293.87,226.39 L294.10,226.87 L294.34,227.35 L294.58,227.82 L294.83,228.29 L295.08,228.76 L295.34,229.22 L295.60,229.68 L295.86,230.14 L296.13,230.60 L296.41,231.05 L296.69,231.50 L296.97,231.94 L297.26,232.39 L297.55,232.83 L297.85,233.26 L298.15,233.69 L298.46,234.12 L298.77,234.55 L299.09,234.97 L299.41,235.39 L299.73,235.80 L300.06,236.21 L300.39,236.61 L300.73,237.02 L301.08,237.41 L301.42,237.81 L301.78,238.20 L302.13,238.58 L302.49,238.96 L302.86,239.34 L303.23,239.71 L303.60,240.07 L303.98,240.44 L304.36,240.79 L304.75,241.14 L305.14,241.49 L305.54,241.83 L305.94,242.17 L306.34,242.50 L306.75,242.83 L307.16,243.15 L307.58,243.46 L308.00,243.78 L308.43,244.08 L308.86,244.38 L309.30,244.67 L309.74,244.96 L310.18,245.24 L310.63,245.52 L311.08,245.79 L311.53,246.06 L311.99,246.32 L312.45,246.57 L312.92,246.82 L313.39,247.06 L313.87,247.30 L314.34,247.54 L314.82,247.76 L315.31,247.99 L315.79,248.20 L316.29,248.41 L316.78,248.62 L317.28,248.82 L317.78,249.02 L318.28,249.21 L318.78,249.40 L319.29,249.58 L319.80,249.75 L320.32,249.92 L320.83,250.09 L321.35,250.25 L321.87,250.40 L322.40,250.56 L322.92,250.70 L323.45,250.84 L323.98,250.98 L324.51,251.11 L325.05,251.24 L325.58,251.36 L326.12,251.48 L326.66,251.59 L327.20,251.70 L327.74,251.81 L328.29,251.91 L328.84,252.01 L329.38,252.11 L329.93,252.20 L330.48,252.29 L331.03,252.37 L331.58,252.45 L332.14,252.53 L332.69,252.60 L333.25,252.67 L333.80,252.74 L334.36,252.81 L334.92,252.87 L335.48,252.93 L336.03,252.99 L336.59,253.04 L337.15,253.09 L337.71,253.14 L338.27,253.19 L338.83,253.24 L339.39,253.28 L339.95,253.32 L340.51,253.36 L341.07,253.40 L341.63,253.43 L342.19,253.47 L342.75,253.50 L343.33,253.54 L343.90,253.57 L344.48,253.61 L345.06,253.64 L345.63,253.67 L346.21,253.70 L346.79,253.74 L347.36,253.77 L347.94,253.80 L348.52,253.83 L349.09,253.86 L349.67,253.89 L350.25,253.92 L350.82,253.95 L351.40,253.97 L351.98,254.00 L352.55,254.03 L353.13,254.06 L353.71,254.08 L354.28,254.11 L354.86,254.13 L355.44,254.16 L356.01,254.18 L356.59,254.21 L357.17,254.23 L357.74,254.25 L358.32,254.28 L358.90,254.30 L359.47,254.32 L360.05,254.34 L360.63,254.37 L361.20,254.39 L361.78,254.41 L362.36,254.43 L362.93,254.45 L363.51,254.47 L364.09,254.49 L364.66,254.51 L365.24,254.53 L365.82,254.54 L366.39,254.56 L366.97,254.58 L367.55,254.60 L368.13,254.62 L368.70,254.63 L369.28,254.65 L369.86,254.67 L370.43,254.68 L371.01,254.70 L371.59,254.72 L372.16,254.73 L372.74,254.75 L373.32,254.76 L373.89,254.78 L374.47,254.79 L375.05,254.80 L375.62,254.82 L376.20,254.83 L376.78,254.85 L377.35,254.86 L377.93,254.87 L378.51,254.89 L379.08,254.90 L379.66,254.91 L380.24,254.92 L380.81,254.94 L381.39,254.95 L381.97,254.96 L382.54,254.97 L383.12,254.98 L383.70,254.99 L384.27,255.01 L384.85,255.02 L385.43,255.03 L386.00,255.04 L386.58,255.05 L387.16,255.06 L387.73,255.07 L388.31,255.08 L388.89,255.09 L389.46,255.10 L390.04,255.11 L390.62,255.12 L391.19,255.13 L391.77,255.13 L392.35,255.14 L392.92,255.15 L393.50,255.16 L394.08,255.17 L394.66,255.18 L395.23,255.19 L395.81,255.19 L396.39,255.20 L396.96,255.21 L397.54,255.22 L398.12,255.22 L398.69,255.23 L399.27,255.24 L399.85,255.25 L400.42,255.25 L401.00,255.26 L401.58,255.27 L402.15,255.27 L402.73,255.28 L403.31,255.29 L403.88,255.29 L404.46,255.30 L405.04,255.30 L405.61,255.31 L406.19,255.32 L406.77,255.32 L407.34,255.33 L407.92,255.33 L408.50,255.34 L409.07,255.35 L409.65,255.35 L410.23,255.36 L410.80,255.36 L411.38,255.37 L411.96,255.37 L412.53,255.38 L413.11,255.38 L413.69,255.39 L414.26,255.39 L414.84,255.40 L415.42,255.40 L415.99,255.40 L416.57,255.41 L417.15,255.41 L417.72,255.42 L418.30,255.42 L418.88,255.43 L419.45,255.43 L420.03,255.43 L420.61,255.44 L421.19,255.44 L421.76,255.45 L422.34,255.45 L422.92,255.45 L423.49,255.46 L424.07,255.46 L424.65,255.46 L425.22,255.47 L425.80,255.47 L426.38,255.47 L426.95,255.48 L427.53,255.48 L428.11,255.48 L428.68,255.49 L429.26,255.49 L429.84,255.49 L430.41,255.50 L430.99,255.50 L431.57,255.50 L432.14,255.51 L432.72,255.51 L433.30,255.51 L433.87,255.51 L434.45,255.52" stroke="#c8282d" stroke-width="1.05" stroke-dasharray="1.8 1.9"/>
</g>
<path d="M280.50,255.68v-2.0M280.50,40.0v2.0M288.59,255.68v-2.0M288.59,40.0v2.0M296.69,255.68v-2.0M296.69,40.0v2.0M304.78,255.68v-2.0M304.78,40.0v2.0M312.88,255.68v-3.0M312.88,40.0v3.0M320.97,255.68v-2.0M320.97,40.0v2.0M329.07,255.68v-2.0M329.07,40.0v2.0M337.16,255.68v-2.0M337.16,40.0v2.0M345.26,255.68v-2.0M345.26,40.0v2.0M353.35,255.68v-3.0M353.35,40.0v3.0M361.45,255.68v-2.0M361.45,40.0v2.0M369.54,255.68v-2.0M369.54,40.0v2.0M377.64,255.68v-2.0M377.64,40.0v2.0M385.73,255.68v-2.0M385.73,40.0v2.0M393.83,255.68v-3.0M393.83,40.0v3.0M401.92,255.68v-2.0M401.92,40.0v2.0M410.02,255.68v-2.0M410.02,40.0v2.0M418.11,255.68v-2.0M418.11,40.0v2.0M426.21,255.68v-2.0M426.21,40.0v2.0M434.30,255.68v-3.0M434.30,40.0v3.0M280.5,255.50h3.0M434.30,255.50h-3.0M280.5,245.90h2.0M434.30,245.90h-2.0M280.5,236.30h2.0M434.30,236.30h-2.0M280.5,226.70h2.0M434.30,226.70h-2.0M280.5,217.10h2.0M434.30,217.10h-2.0M280.5,207.50h3.0M434.30,207.50h-3.0M280.5,197.90h2.0M434.30,197.90h-2.0M280.5,188.30h2.0M434.30,188.30h-2.0M280.5,178.70h2.0M434.30,178.70h-2.0M280.5,169.10h2.0M434.30,169.10h-2.0M280.5,159.50h3.0M434.30,159.50h-3.0M280.5,149.90h2.0M434.30,149.90h-2.0M280.5,140.30h2.0M434.30,140.30h-2.0M280.5,130.70h2.0M434.30,130.70h-2.0M280.5,121.10h2.0M434.30,121.10h-2.0M280.5,111.50h3.0M434.30,111.50h-3.0M280.5,101.90h2.0M434.30,101.90h-2.0M280.5,92.30h2.0M434.30,92.30h-2.0M280.5,82.70h2.0M434.30,82.70h-2.0M280.5,73.10h2.0M434.30,73.10h-2.0M280.5,63.50h3.0M434.30,63.50h-3.0M280.5,53.90h2.0M434.30,53.90h-2.0M280.5,44.30h2.0M434.30,44.30h-2.0" stroke="#2a2a2a" stroke-width="1.0" fill="none"/>
<text class="tk" transform="translate(313.18,275.2) scale(0.915,1)" text-anchor="middle">50</text>
<text class="tk" transform="translate(353.65,275.2) scale(0.915,1)" text-anchor="middle">100</text>
<text class="tk" transform="translate(394.13,275.2) scale(0.915,1)" text-anchor="middle">150</text>
<text class="tk" transform="translate(434.60,275.2) scale(0.915,1)" text-anchor="middle">200</text>
<text class="tk" transform="translate(278.60,262.30) scale(0.935,1)" text-anchor="end">0.000</text>
<text class="tk" transform="translate(278.60,214.30) scale(0.935,1)" text-anchor="end">0.001</text>
<text class="tk" transform="translate(278.60,166.30) scale(0.935,1)" text-anchor="end">0.002</text>
<text class="tk" transform="translate(278.60,118.30) scale(0.935,1)" text-anchor="end">0.003</text>
<text class="tk" transform="translate(278.60,70.30) scale(0.935,1)" text-anchor="end">0.004</text>
<text class="tt" x="393.65" y="65.3" text-anchor="middle">LHC 8 TeV</text>
<path d="M352.35,108.5H377.85" stroke="#3434d0" stroke-width="1.0" fill="none"/>
<text class="lg" transform="translate(388.85,114.40) scale(0.94,1)">model A</text>
<path d="M352.35,128.4H377.85" stroke="#c8282d" stroke-width="1.0" stroke-dasharray="1.8 1.9" fill="none"/>
<text class="lg" transform="translate(388.85,134.30) scale(0.94,1)">model B</text>
<path d="M352.35,147.7H377.85" stroke="#649628" stroke-width="1.0" stroke-dasharray="5.5 3.65" fill="none"/>
<text class="lg" transform="translate(388.85,153.60) scale(0.94,1)">model C</text>
<text y="298.9" font-size="13.7"><tspan class="i" font-size="14.3" x="323.05">p</tspan><tspan class="i" font-size="10" x="331.05" dy="2.2">T</tspan><tspan font-size="9.4" x="336.85">,cut</tspan><tspan x="355.45" dy="-2.2">(GeV)</tspan></text>
<g transform="translate(235.90,172.4) rotate(-90)"><text y="0" font-size="14.6"><tspan class="i" x="-0.3" stroke="#fff" stroke-width="0.22">σ</tspan><tspan class="i" font-size="10.3" x="9.4" dy="1.0">X</tspan><tspan font-size="10.2" x="16.9" dy="1.4">+</tspan><tspan class="i" font-size="9.0" x="22.9" dy="-0.6">γ</tspan><tspan font-size="13.6" x="28.7" dy="-2.0" stroke="#fff" stroke-width="0.22">/</tspan><tspan class="i" x="32.2" dy="0.2" stroke="#fff" stroke-width="0.22">σ</tspan><tspan class="i" font-size="10.3" x="41.5" dy="1.0">X</tspan></text></g>
</g>
<g>
<clipPath id="c2"><rect x="497.90" y="39.40" width="155.20" height="217.08"/></clipPath>
<path d="M498.5,255.68H652.50" stroke="#505050" stroke-width="1.0" fill="none"/>
<g clip-path="url(#c2)" fill="none" stroke-width="1.0">
<path d="M498.40,249.10 L498.44,249.13 L498.48,249.17 L498.53,249.20 L498.57,249.24 L498.61,249.27 L498.65,249.31 L498.69,249.34 L498.73,249.38 L498.78,249.41 L498.82,249.44 L498.86,249.48 L498.90,249.51 L498.95,249.54 L498.99,249.58 L499.03,249.61 L499.07,249.64 L499.12,249.68 L499.16,249.71 L499.20,249.74 L499.24,249.78 L499.29,249.81 L499.33,249.84 L499.37,249.87 L499.42,249.91 L499.46,249.94 L499.50,249.97 L499.55,250.00 L499.59,250.04 L499.63,250.07 L499.68,250.10 L499.72,250.13 L499.76,250.16 L499.81,250.19 L499.85,250.23 L499.89,250.26 L499.94,250.29 L499.98,250.32 L500.03,250.35 L500.07,250.38 L500.11,250.41 L500.16,250.44 L500.20,250.47 L500.25,250.50 L500.29,250.53 L500.34,250.56 L500.38,250.59 L500.42,250.62 L500.47,250.65 L500.51,250.68 L500.56,250.71 L500.60,250.74 L500.65,250.77 L500.69,250.79 L500.74,250.82 L500.78,250.85 L500.83,250.88 L500.87,250.91 L500.92,250.94 L500.96,250.96 L501.01,250.99 L501.05,251.02 L501.10,251.05 L501.14,251.07 L501.19,251.10 L501.24,251.13 L501.28,251.16 L501.33,251.18 L501.37,251.21 L501.42,251.23 L501.46,251.26 L501.51,251.29 L501.56,251.31 L501.60,251.34 L501.65,251.36 L501.69,251.39 L501.74,251.41 L501.79,251.44 L501.83,251.46 L501.88,251.49 L501.93,251.51 L501.97,251.54 L502.02,251.56 L502.07,251.59 L502.11,251.61 L502.16,251.64 L502.21,251.66 L502.25,251.69 L502.30,251.71 L502.35,251.74 L502.40,251.76 L502.44,251.79 L502.49,251.81 L502.54,251.83 L502.59,251.86 L502.63,251.88 L502.68,251.91 L502.73,251.93 L502.78,251.96 L502.83,251.98 L502.87,252.01 L502.92,252.03 L502.97,252.05 L503.02,252.08 L503.07,252.10 L503.12,252.13 L503.16,252.15 L503.21,252.17 L503.26,252.20 L503.31,252.22 L503.36,252.25 L503.41,252.27 L503.46,252.29 L503.51,252.32 L503.56,252.34 L503.60,252.36 L503.65,252.39 L503.70,252.41 L503.75,252.43 L503.80,252.45 L503.85,252.48 L503.90,252.50 L503.95,252.52 L504.00,252.54 L504.05,252.56 L504.10,252.59 L504.15,252.61 L504.20,252.63 L504.25,252.65 L504.30,252.67 L504.35,252.69 L504.40,252.71 L504.45,252.73 L504.50,252.75 L504.55,252.77 L504.60,252.79 L504.65,252.81 L504.70,252.83 L504.75,252.85 L504.80,252.87 L504.85,252.89 L504.90,252.91 L504.95,252.93 L505.00,252.95 L505.05,252.96 L505.10,252.98 L505.15,253.00 L505.20,253.02 L505.25,253.03 L505.30,253.05 L505.35,253.07 L505.40,253.08 L505.46,253.10 L505.51,253.11 L505.56,253.13 L505.61,253.15 L505.66,253.16 L505.71,253.17 L505.76,253.19 L505.81,253.20 L505.86,253.22 L505.91,253.23 L505.96,253.24 L506.01,253.26 L506.06,253.27 L506.12,253.28 L506.17,253.29 L506.22,253.30 L506.27,253.32 L506.32,253.33 L506.37,253.34 L506.42,253.35 L506.47,253.36 L506.52,253.37 L506.57,253.38 L506.63,253.40 L506.68,253.41 L506.73,253.42 L506.78,253.43 L506.83,253.44 L506.88,253.45 L506.93,253.46 L506.98,253.47 L507.04,253.49 L507.95,253.68 L508.87,253.85 L509.78,254.01 L510.70,254.16 L511.62,254.29 L512.53,254.41 L513.45,254.52 L514.36,254.62 L515.28,254.72 L516.20,254.80 L517.11,254.88 L518.03,254.95 L518.94,255.01 L519.86,255.07 L520.78,255.12 L521.69,255.17 L522.61,255.22 L523.53,255.26 L524.44,255.29 L525.36,255.33 L526.27,255.36 L527.19,255.39 L528.11,255.41 L529.02,255.44 L529.94,255.46 L530.85,255.48 L531.77,255.49 L532.69,255.51 L533.60,255.53 L534.52,255.54 L535.44,255.55 L536.35,255.56 L537.27,255.57 L538.18,255.58 L539.10,255.59 L540.02,255.60 L540.93,255.61 L541.85,255.61 L542.76,255.62 L543.68,255.62 L544.60,255.63 L545.51,255.63 L546.43,255.64 L547.34,255.64 L548.26,255.64 L549.18,255.65 L550.09,255.65 L551.01,255.65 L551.93,255.66 L552.84,255.66 L553.76,255.66 L554.67,255.66 L555.59,255.66 L556.51,255.66 L557.42,255.67 L558.34,255.67 L559.25,255.67 L560.17,255.67 L561.09,255.67 L562.00,255.67 L562.92,255.67 L563.84,255.67 L564.75,255.67 L565.67,255.67 L566.58,255.67 L567.50,255.67 L568.42,255.68 L569.33,255.68 L570.25,255.68 L571.16,255.68 L572.08,255.68 L573.00,255.68 L573.91,255.68 L574.83,255.68 L575.75,255.68 L576.66,255.68 L577.58,255.68 L578.49,255.68 L579.41,255.68 L580.33,255.68 L581.24,255.68 L582.16,255.68 L583.07,255.68 L583.99,255.68 L584.91,255.68 L585.82,255.68 L586.74,255.68 L587.65,255.68 L588.57,255.68 L589.49,255.68 L590.40,255.68 L591.32,255.68 L592.24,255.68 L593.15,255.68 L594.07,255.68 L594.98,255.68 L595.90,255.68 L596.82,255.68 L597.73,255.68 L598.65,255.68 L599.56,255.68 L600.48,255.68 L601.40,255.68 L602.31,255.68 L603.23,255.68 L604.15,255.68 L605.06,255.68 L605.98,255.68 L606.89,255.68 L607.81,255.68 L608.73,255.68 L609.64,255.68 L610.56,255.68 L611.47,255.68 L612.39,255.68 L613.31,255.68 L614.22,255.68 L615.14,255.68 L616.05,255.68 L616.97,255.68 L617.89,255.68 L618.80,255.68 L619.72,255.68 L620.64,255.68 L621.55,255.68 L622.47,255.68 L623.38,255.68 L624.30,255.68 L625.22,255.68 L626.13,255.68 L627.05,255.68 L627.96,255.68 L628.88,255.68 L629.80,255.68 L630.71,255.68 L631.63,255.68 L632.55,255.68 L633.46,255.68 L634.38,255.68 L635.29,255.68 L636.21,255.68 L637.13,255.68 L638.04,255.68 L638.96,255.68 L639.87,255.68 L640.79,255.68 L641.71,255.68 L642.62,255.68 L643.54,255.68 L644.45,255.68 L645.37,255.68 L646.29,255.68 L647.20,255.68 L648.12,255.68 L649.04,255.68 L649.95,255.68 L650.87,255.68 L651.78,255.68 L652.70,255.68" stroke="#3434d0" stroke-width="1.2"/>
<path d="M498.79,40.01 L498.90,40.90 L499.01,41.79 L499.12,42.69 L499.22,43.58 L499.32,44.47 L499.41,45.37 L499.51,46.26 L499.60,47.16 L499.69,48.06 L499.77,48.95 L499.86,49.85 L499.94,50.75 L500.02,51.65 L500.09,52.55 L500.17,53.44 L500.24,54.34 L500.32,55.24 L500.39,56.14 L500.46,57.04 L500.53,57.94 L500.59,58.85 L500.66,59.75 L500.72,60.65 L500.78,61.55 L500.85,62.45 L500.91,63.36 L500.97,64.26 L501.03,65.16 L501.09,66.06 L501.15,66.97 L501.21,67.87 L501.27,68.77 L501.33,69.68 L501.39,70.58 L501.45,71.49 L501.51,72.39 L501.57,73.30 L501.63,74.20 L501.69,75.11 L501.75,76.01 L501.81,76.92 L501.87,77.82 L501.94,78.73 L502.00,79.63 L502.07,80.54 L502.13,81.44 L502.20,82.35 L502.27,83.25 L502.34,84.16 L502.42,85.06 L502.49,85.97 L502.57,86.87 L502.65,87.78 L502.73,88.69 L502.81,89.59 L502.90,90.50 L502.98,91.40 L503.07,92.31 L503.16,93.21 L503.26,94.12 L503.36,95.02 L503.46,95.93 L503.56,96.83 L503.67,97.73 L503.78,98.64 L503.89,99.54 L504.01,100.45 L504.12,101.35 L504.25,102.25 L504.37,103.16 L504.50,104.06 L504.64,104.96 L504.78,105.87 L504.92,106.77 L505.06,107.67 L505.22,108.57 L505.37,109.47 L505.53,110.37 L505.69,111.27 L505.86,112.17 L506.03,113.07 L506.21,113.97 L506.39,114.87 L506.58,115.77 L506.77,116.66 L506.97,117.56 L507.17,118.45 L507.37,119.34 L507.59,120.23 L507.80,121.12 L508.02,122.01 L508.25,122.89 L508.48,123.78 L508.72,124.66 L508.96,125.54 L509.21,126.42 L509.47,127.29 L509.73,128.16 L509.99,129.03 L510.26,129.90 L510.54,130.77 L510.82,131.63 L511.11,132.49 L511.41,133.35 L511.71,134.20 L512.01,135.05 L512.33,135.90 L512.65,136.75 L512.97,137.59 L513.30,138.42 L513.64,139.26 L513.99,140.09 L514.34,140.91 L514.70,141.74 L515.06,142.56 L515.43,143.37 L515.81,144.18 L516.20,144.99 L516.59,145.79 L516.99,146.59 L517.39,147.38 L517.81,148.17 L518.23,148.95 L518.66,149.73 L519.09,150.51 L519.53,151.27 L519.98,152.04 L520.44,152.80 L520.91,153.55 L521.38,154.30 L521.86,155.04 L522.35,155.78 L522.84,156.51 L523.34,157.23 L523.86,157.95 L524.37,158.67 L524.90,159.37 L525.44,160.08 L525.98,160.77 L526.53,161.46 L527.09,162.14 L527.66,162.82 L528.24,163.49 L528.82,164.15 L529.42,164.80 L530.02,165.45 L530.63,166.09 L531.25,166.73 L531.88,167.36 L532.51,167.98 L533.16,168.59 L533.81,169.20 L534.47,169.80 L535.13,170.40 L535.81,170.98 L536.49,171.57 L537.18,172.15 L537.87,172.72 L538.57,173.28 L539.28,173.84 L539.99,174.40 L540.71,174.95 L541.43,175.49 L542.16,176.03 L542.89,176.57 L543.63,177.10 L544.37,177.62 L545.12,178.14 L545.88,178.66 L546.63,179.17 L547.39,179.68 L548.16,180.18 L548.93,180.68 L549.70,181.18 L550.47,181.67 L551.25,182.16 L552.03,182.64 L552.82,183.13 L553.60,183.60 L554.39,184.08 L555.18,184.55 L555.98,185.02 L556.77,185.49 L557.57,185.95 L558.36,186.41 L559.16,186.87 L559.96,187.33 L560.76,187.78 L561.56,188.23 L562.36,188.68 L563.16,189.13 L563.97,189.58 L564.77,190.02 L565.57,190.46 L566.38,190.90 L567.18,191.34 L567.99,191.78 L568.79,192.21 L569.60,192.65 L570.41,193.08 L571.22,193.50 L572.02,193.93 L572.83,194.36 L573.64,194.78 L574.45,195.20 L575.26,195.62 L576.07,196.04 L576.88,196.46 L577.69,196.87 L578.51,197.29 L579.32,197.70 L580.13,198.11 L580.94,198.52 L581.75,198.93 L582.57,199.34 L583.38,199.74 L584.19,200.15 L585.01,200.55 L585.82,200.95 L586.63,201.35 L587.45,201.75 L588.26,202.15 L589.08,202.55 L589.89,202.94 L590.71,203.34 L591.52,203.73 L592.34,204.12 L593.15,204.52 L593.96,204.91 L594.78,205.30 L595.59,205.69 L596.41,206.08 L597.22,206.46 L598.04,206.85 L598.85,207.23 L599.67,207.62 L600.49,208.00 L601.30,208.38 L602.12,208.76 L602.94,209.14 L603.75,209.52 L604.57,209.89 L605.39,210.27 L606.21,210.64 L607.02,211.01 L607.84,211.39 L608.66,211.75 L609.48,212.12 L610.30,212.49 L611.13,212.85 L611.95,213.21 L612.77,213.58 L613.59,213.94 L614.42,214.29 L615.24,214.65 L616.07,215.00 L616.90,215.36 L617.72,215.71 L618.55,216.05 L619.38,216.40 L620.21,216.75 L621.04,217.09 L621.87,217.43 L622.71,217.77 L623.54,218.10 L624.38,218.44 L625.21,218.77 L626.05,219.10 L626.89,219.43 L627.73,219.76 L628.57,220.08 L629.41,220.40 L630.25,220.72 L631.10,221.04 L631.94,221.35 L632.79,221.66 L633.64,221.97 L634.49,222.28 L635.34,222.58 L636.19,222.88 L637.05,223.18 L637.90,223.48 L638.76,223.77 L639.62,224.07 L640.48,224.35 L641.34,224.64 L642.20,224.92 L643.07,225.20 L643.94,225.48 L644.80,225.76 L645.68,226.03 L646.55,226.30 L647.42,226.56 L648.30,226.83 L649.18,227.09 L650.05,227.34 L650.94,227.60 L651.82,227.85 L652.50,228.04" stroke="#649628" stroke-dasharray="5.5 3.65" stroke-dashoffset="6.42"/>
</g>
<path d="M498.5,256.18V40.0H652.50V256.18" fill="none" stroke="#505050" stroke-width="1.0"/>
<path d="M498.5,255.68H652.50" stroke="#505050" stroke-width="1.0" stroke-opacity="0.65" fill="none"/>
<g clip-path="url(#c2)" fill="none" stroke-width="1.0">
<path d="M498.45,146.50 L498.53,147.04 L498.60,147.58 L498.68,148.11 L498.75,148.65 L498.83,149.18 L498.90,149.71 L498.97,150.25 L499.04,150.78 L499.11,151.31 L499.19,151.84 L499.25,152.37 L499.32,152.90 L499.39,153.43 L499.46,153.95 L499.53,154.48 L499.59,155.01 L499.66,155.53 L499.73,156.06 L499.79,156.58 L499.86,157.11 L499.92,157.63 L499.98,158.16 L500.05,158.68 L500.11,159.21 L500.17,159.73 L500.23,160.25 L500.30,160.77 L500.36,161.30 L500.42,161.82 L500.48,162.34 L500.54,162.86 L500.60,163.38 L500.66,163.90 L500.72,164.42 L500.78,164.95 L500.84,165.47 L500.90,165.99 L500.95,166.51 L501.01,167.03 L501.07,167.55 L501.13,168.07 L501.19,168.59 L501.24,169.11 L501.30,169.63 L501.36,170.15 L501.42,170.67 L501.48,171.20 L501.53,171.72 L501.59,172.24 L501.65,172.76 L501.71,173.28 L501.76,173.81 L501.82,174.33 L501.88,174.85 L501.94,175.37 L501.99,175.90 L502.05,176.42 L502.11,176.95 L502.17,177.47 L502.23,178.00 L502.29,178.52 L502.35,179.05 L502.41,179.58 L502.47,180.10 L502.52,180.63 L502.59,181.16 L502.65,181.69 L502.71,182.22 L502.77,182.75 L502.83,183.28 L502.89,183.81 L502.95,184.34 L503.02,184.88 L503.08,185.41 L503.14,185.94 L503.21,186.48 L503.27,187.02 L503.34,187.55 L503.40,188.09 L503.47,188.63 L503.53,189.17 L503.60,189.71 L503.67,190.25 L503.74,190.79 L503.81,191.33 L503.88,191.87 L503.95,192.42 L504.02,192.96 L504.10,193.50 L504.17,194.04 L504.25,194.59 L504.33,195.13 L504.40,195.67 L504.48,196.22 L504.57,196.76 L504.65,197.31 L504.73,197.85 L504.82,198.39 L504.91,198.94 L504.99,199.48 L505.08,200.02 L505.18,200.56 L505.27,201.10 L505.37,201.65 L505.46,202.19 L505.56,202.73 L505.66,203.27 L505.77,203.81 L505.87,204.35 L505.98,204.88 L506.09,205.42 L506.20,205.96 L506.32,206.49 L506.43,207.03 L506.55,207.56 L506.68,208.09 L506.80,208.62 L506.93,209.15 L507.06,209.68 L507.19,210.21 L507.32,210.74 L507.46,211.26 L507.60,211.79 L507.74,212.31 L507.89,212.83 L508.03,213.35 L508.19,213.87 L508.34,214.39 L508.50,214.90 L508.66,215.41 L508.82,215.92 L508.99,216.43 L509.16,216.94 L509.33,217.45 L509.51,217.95 L509.69,218.45 L509.88,218.95 L510.06,219.45 L510.26,219.95 L510.45,220.44 L510.65,220.93 L510.85,221.42 L511.06,221.91 L511.27,222.39 L511.48,222.87 L511.70,223.35 L511.92,223.83 L512.15,224.31 L512.38,224.78 L512.61,225.25 L512.85,225.71 L513.09,226.18 L513.34,226.64 L513.59,227.10 L513.84,227.55 L514.10,228.00 L514.37,228.45 L514.64,228.90 L514.91,229.34 L515.19,229.78 L515.47,230.22 L515.76,230.65 L516.05,231.08 L516.35,231.51 L516.65,231.93 L516.95,232.35 L517.26,232.77 L517.58,233.18 L517.90,233.59 L518.22,234.00 L518.55,234.40 L518.88,234.80 L519.21,235.20 L519.55,235.59 L519.89,235.98 L520.24,236.37 L520.59,236.75 L520.95,237.13 L521.31,237.50 L521.67,237.87 L522.04,238.24 L522.41,238.60 L522.79,238.96 L523.17,239.32 L523.55,239.67 L523.94,240.02 L524.33,240.36 L524.72,240.70 L525.12,241.04 L525.52,241.37 L525.92,241.70 L526.33,242.02 L526.74,242.34 L527.16,242.65 L527.58,242.97 L528.00,243.27 L528.43,243.58 L528.86,243.87 L529.29,244.17 L529.72,244.46 L530.16,244.74 L530.61,245.03 L531.05,245.30 L531.50,245.58 L531.95,245.84 L532.41,246.11 L532.86,246.37 L533.32,246.62 L533.79,246.87 L534.25,247.12 L534.72,247.36 L535.20,247.59 L535.67,247.82 L536.15,248.05 L536.63,248.27 L537.11,248.49 L537.60,248.70 L538.09,248.91 L538.58,249.11 L539.08,249.31 L539.57,249.50 L540.07,249.69 L540.58,249.87 L541.08,250.05 L541.59,250.22 L542.10,250.39 L542.61,250.55 L543.12,250.71 L543.64,250.86 L544.16,251.01 L544.68,251.15 L545.20,251.29 L545.72,251.43 L546.25,251.56 L546.78,251.69 L547.31,251.81 L547.84,251.93 L548.37,252.04 L548.90,252.15 L549.44,252.26 L549.98,252.36 L550.51,252.46 L551.05,252.56 L551.59,252.65 L552.13,252.74 L552.68,252.82 L553.22,252.91 L553.76,252.99 L554.31,253.06 L554.85,253.13 L555.40,253.20 L555.95,253.27 L556.49,253.34 L557.04,253.40 L557.59,253.46 L558.14,253.51 L558.73,253.58 L559.33,253.64 L559.92,253.70 L560.52,253.76 L561.11,253.81 L561.71,253.87 L562.30,253.92 L562.90,253.97 L563.49,254.02 L564.08,254.07 L564.68,254.12 L565.27,254.16 L565.87,254.21 L566.46,254.25 L567.06,254.29 L567.65,254.33 L568.25,254.37 L568.84,254.41 L569.44,254.45 L570.03,254.48 L570.63,254.52 L571.22,254.55 L571.82,254.59 L572.41,254.62 L573.01,254.65 L573.60,254.68 L574.19,254.71 L574.79,254.74 L575.38,254.76 L575.98,254.79 L576.57,254.82 L577.17,254.84 L577.76,254.87 L578.36,254.89 L578.95,254.91 L579.55,254.94 L580.14,254.96 L580.74,254.98 L581.33,255.00 L581.93,255.02 L582.52,255.04 L583.12,255.06 L583.71,255.08 L584.31,255.09 L584.90,255.11 L585.49,255.13 L586.09,255.14 L586.68,255.16 L587.28,255.17 L587.87,255.19 L588.47,255.20 L589.06,255.22 L589.66,255.23 L590.25,255.24 L590.85,255.26 L591.44,255.27 L592.04,255.28 L592.63,255.29 L593.23,255.30 L593.82,255.32 L594.42,255.33 L595.01,255.34 L595.61,255.35 L596.20,255.36 L596.79,255.37 L597.39,255.37 L597.98,255.38 L598.58,255.39 L599.17,255.40 L599.77,255.41 L600.36,255.42 L600.96,255.42 L601.55,255.43 L602.15,255.44 L602.74,255.45 L603.34,255.45 L603.93,255.46 L604.53,255.47 L605.12,255.47 L605.72,255.48 L606.31,255.48 L606.91,255.49 L607.50,255.50 L608.09,255.50 L608.69,255.51 L609.28,255.51 L609.88,255.52 L610.47,255.52 L611.07,255.53 L611.66,255.53 L612.26,255.53 L612.85,255.54 L613.45,255.54 L614.04,255.55 L614.64,255.55 L615.23,255.55 L615.83,255.56 L616.42,255.56 L617.02,255.57 L617.61,255.57 L618.21,255.57 L618.80,255.58 L619.39,255.58 L619.99,255.58 L620.58,255.58 L621.18,255.59 L621.77,255.59 L622.37,255.59 L622.96,255.59 L623.56,255.60 L624.15,255.60 L624.75,255.60 L625.34,255.60 L625.94,255.61 L626.53,255.61 L627.13,255.61 L627.72,255.61 L628.32,255.61 L628.91,255.62 L629.51,255.62 L630.10,255.62 L630.69,255.62 L631.29,255.62 L631.88,255.63 L632.48,255.63 L633.07,255.63 L633.67,255.63 L634.26,255.63 L634.86,255.63 L635.45,255.63 L636.05,255.64 L636.64,255.64 L637.24,255.64 L637.83,255.64 L638.43,255.64 L639.02,255.64 L639.62,255.64 L640.21,255.64 L640.81,255.65 L641.40,255.65 L641.99,255.65 L642.59,255.65 L643.18,255.65 L643.78,255.65 L644.37,255.65 L644.97,255.65 L645.56,255.65 L646.16,255.65 L646.75,255.65 L647.35,255.65 L647.94,255.66 L648.54,255.66 L649.13,255.66 L649.73,255.66 L650.32,255.66 L650.92,255.66 L651.51,255.66 L652.11,255.66 L652.70,255.66" stroke="#c8282d" stroke-width="1.05" stroke-dasharray="1.8 1.9"/>
</g>
<path d="M498.50,255.68v-2.0M498.50,40.0v2.0M506.61,255.68v-2.0M506.61,40.0v2.0M514.71,255.68v-2.0M514.71,40.0v2.0M522.82,255.68v-2.0M522.82,40.0v2.0M530.92,255.68v-3.0M530.92,40.0v3.0M539.03,255.68v-2.0M539.03,40.0v2.0M547.13,255.68v-2.0M547.13,40.0v2.0M555.24,255.68v-2.0M555.24,40.0v2.0M563.34,255.68v-2.0M563.34,40.0v2.0M571.45,255.68v-3.0M571.45,40.0v3.0M579.55,255.68v-2.0M579.55,40.0v2.0M587.66,255.68v-2.0M587.66,40.0v2.0M595.76,255.68v-2.0M595.76,40.0v2.0M603.87,255.68v-2.0M603.87,40.0v2.0M611.97,255.68v-3.0M611.97,40.0v3.0M620.08,255.68v-2.0M620.08,40.0v2.0M628.18,255.68v-2.0M628.18,40.0v2.0M636.29,255.68v-2.0M636.29,40.0v2.0M644.39,255.68v-2.0M644.39,40.0v2.0M652.50,255.68v-3.0M652.50,40.0v3.0M498.5,255.50h3.0M652.50,255.50h-3.0M498.5,245.90h2.0M652.50,245.90h-2.0M498.5,236.30h2.0M652.50,236.30h-2.0M498.5,226.70h2.0M652.50,226.70h-2.0M498.5,217.10h2.0M652.50,217.10h-2.0M498.5,207.50h3.0M652.50,207.50h-3.0M498.5,197.90h2.0M652.50,197.90h-2.0M498.5,188.30h2.0M652.50,188.30h-2.0M498.5,178.70h2.0M652.50,178.70h-2.0M498.5,169.10h2.0M652.50,169.10h-2.0M498.5,159.50h3.0M652.50,159.50h-3.0M498.5,149.90h2.0M652.50,149.90h-2.0M498.5,140.30h2.0M652.50,140.30h-2.0M498.5,130.70h2.0M652.50,130.70h-2.0M498.5,121.10h2.0M652.50,121.10h-2.0M498.5,111.50h3.0M652.50,111.50h-3.0M498.5,101.90h2.0M652.50,101.90h-2.0M498.5,92.30h2.0M652.50,92.30h-2.0M498.5,82.70h2.0M652.50,82.70h-2.0M498.5,73.10h2.0M652.50,73.10h-2.0M498.5,63.50h3.0M652.50,63.50h-3.0M498.5,53.90h2.0M652.50,53.90h-2.0M498.5,44.30h2.0M652.50,44.30h-2.0" stroke="#2a2a2a" stroke-width="1.0" fill="none"/>
<text class="tk" transform="translate(531.22,275.2) scale(0.915,1)" text-anchor="middle">50</text>
<text class="tk" transform="translate(571.75,275.2) scale(0.915,1)" text-anchor="middle">100</text>
<text class="tk" transform="translate(612.27,275.2) scale(0.915,1)" text-anchor="middle">150</text>
<text class="tk" transform="translate(652.80,275.2) scale(0.915,1)" text-anchor="middle">200</text>
<text class="tk" transform="translate(496.60,262.30) scale(0.935,1)" text-anchor="end">0.000</text>
<text class="tk" transform="translate(496.60,214.30) scale(0.935,1)" text-anchor="end">0.001</text>
<text class="tk" transform="translate(496.60,166.30) scale(0.935,1)" text-anchor="end">0.002</text>
<text class="tk" transform="translate(496.60,118.30) scale(0.935,1)" text-anchor="end">0.003</text>
<text class="tk" transform="translate(496.60,70.30) scale(0.935,1)" text-anchor="end">0.004</text>
<text class="tt" x="611.90" y="65.3" text-anchor="middle">LHC 14 TeV</text>
<path d="M571.20,108.5H596.70" stroke="#3434d0" stroke-width="1.0" fill="none"/>
<text class="lg" transform="translate(607.70,114.40) scale(0.94,1)">model A</text>
<path d="M571.20,128.4H596.70" stroke="#c8282d" stroke-width="1.0" stroke-dasharray="1.8 1.9" fill="none"/>
<text class="lg" transform="translate(607.70,134.30) scale(0.94,1)">model B</text>
<path d="M571.20,147.7H596.70" stroke="#649628" stroke-width="1.0" stroke-dasharray="5.5 3.65" fill="none"/>
<text class="lg" transform="translate(607.70,153.60) scale(0.94,1)">model C</text>
<text y="298.9" font-size="13.7"><tspan class="i" font-size="14.3" x="541.80">p</tspan><tspan class="i" font-size="10" x="549.80" dy="2.2">T</tspan><tspan font-size="9.4" x="555.60">,cut</tspan><tspan x="574.20" dy="-2.2">(GeV)</tspan></text>
<g transform="translate(453.90,172.4) rotate(-90)"><text y="0" font-size="14.6"><tspan class="i" x="-0.3" stroke="#fff" stroke-width="0.22">σ</tspan><tspan class="i" font-size="10.3" x="9.4" dy="1.0">X</tspan><tspan font-size="10.2" x="16.9" dy="1.4">+</tspan><tspan class="i" font-size="9.0" x="22.9" dy="-0.6">γ</tspan><tspan font-size="13.6" x="28.7" dy="-2.0" stroke="#fff" stroke-width="0.22">/</tspan><tspan class="i" x="32.2" dy="0.2" stroke="#fff" stroke-width="0.22">σ</tspan><tspan class="i" font-size="10.3" x="41.5" dy="1.0">X</tspan></text></g>
</g>
</svg>
</body></html>
